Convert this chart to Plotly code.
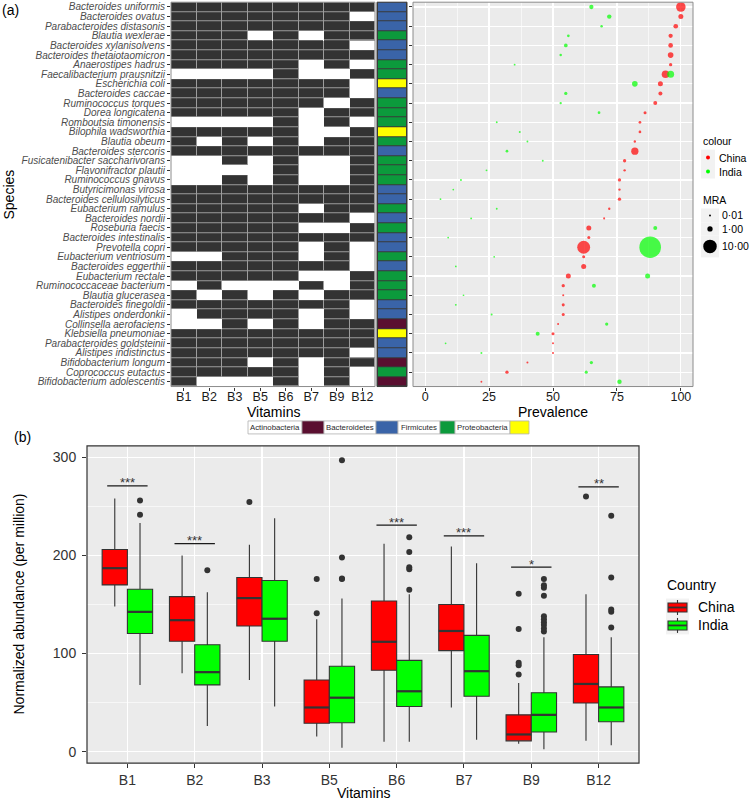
import plotly.graph_objects as go
import numpy as np

# ---------------- DATA ----------------
species = [
    "Bacteroides uniformis", "Bacteroides ovatus", "Parabacteroides distasonis", "Blautia wexlerae",
    "Bacteroides xylanisolvens", "Bacteroides thetaiotaomicron", "Anaerostipes hadrus",
    "Faecalibacterium prausnitzii", "Escherichia coli", "Bacteroides caccae", "Ruminococcus torques",
    "Dorea longicatena", "Romboutsia timonensis", "Bilophila wadsworthia", "Blautia obeum",
    "Bacteroides stercoris", "Fusicatenibacter saccharivorans", "Flavonifractor plautii",
    "Ruminococcus gnavus", "Butyricimonas virosa", "Bacteroides cellulosilyticus", "Eubacterium ramulus",
    "Bacteroides nordii", "Roseburia faecis", "Bacteroides intestinalis", "Prevotella copri",
    "Eubacterium ventriosum", "Bacteroides eggerthii", "Eubacterium rectale", "Ruminococcaceae bacterium",
    "Blautia glucerasea", "Bacteroides finegoldii", "Alistipes onderdonkii", "Collinsella aerofaciens",
    "Klebsiella pneumoniae", "Parabacteroides goldsteinii", "Alistipes indistinctus",
    "Bifidobacterium longum", "Coprococcus eutactus", "Bifidobacterium adolescentis",
]
vitamins = ["B1", "B2", "B3", "B5", "B6", "B7", "B9", "B12"]
presence = [
    [1, 1, 1, 1, 1, 1, 1, 1], [1, 1, 1, 1, 1, 1, 1, 0], [1, 1, 1, 1, 1, 1, 1, 1], [1, 1, 1, 0, 1, 0, 1, 1],
    [1, 1, 1, 1, 1, 1, 1, 0], [1, 1, 1, 1, 1, 1, 1, 1], [1, 1, 1, 1, 1, 0, 1, 0], [0, 0, 0, 0, 1, 0, 0, 1],
    [1, 1, 1, 1, 1, 1, 1, 0], [1, 1, 1, 1, 1, 1, 1, 0], [1, 1, 1, 1, 1, 1, 0, 1], [1, 1, 1, 1, 1, 0, 1, 1],
    [0, 0, 0, 0, 1, 0, 1, 0], [1, 1, 1, 1, 1, 0, 0, 1], [1, 0, 1, 0, 1, 0, 1, 1], [1, 1, 1, 1, 1, 1, 1, 1],
    [0, 0, 1, 0, 1, 0, 0, 1], [0, 0, 0, 0, 1, 0, 0, 1], [0, 0, 1, 0, 1, 0, 0, 1], [1, 1, 1, 1, 1, 1, 1, 1],
    [1, 1, 1, 1, 1, 1, 1, 1], [1, 1, 1, 1, 1, 0, 1, 1], [1, 1, 1, 1, 1, 1, 1, 0], [1, 1, 1, 1, 1, 0, 0, 1],
    [1, 1, 1, 1, 1, 1, 1, 1], [1, 1, 1, 1, 1, 0, 1, 0], [0, 0, 1, 1, 1, 0, 1, 0], [1, 1, 1, 1, 1, 1, 1, 0],
    [1, 1, 1, 1, 1, 0, 0, 1], [0, 1, 0, 0, 0, 1, 0, 1], [1, 0, 1, 0, 1, 0, 1, 1], [1, 1, 1, 1, 1, 1, 1, 0],
    [0, 1, 1, 1, 1, 0, 1, 0], [0, 0, 1, 0, 1, 0, 1, 1], [1, 1, 1, 1, 1, 1, 1, 1], [1, 1, 1, 1, 1, 1, 1, 1],
    [1, 1, 1, 1, 1, 1, 1, 0], [1, 1, 1, 0, 1, 0, 1, 1], [1, 1, 1, 1, 1, 0, 1, 0], [1, 0, 0, 0, 1, 0, 1, 0],
]
phylum_names = ["Actinobacteria", "Bacteroidetes", "Firmicutes", "Proteobacteria"]
phylum_colors = ["#5A0F30", "#3A64A8", "#0C9A3C", "#FFFF00"]
phylum = [
    "Bacteroidetes", "Bacteroidetes", "Bacteroidetes", "Firmicutes", "Bacteroidetes", "Bacteroidetes",
    "Firmicutes", "Firmicutes", "Proteobacteria", "Bacteroidetes", "Firmicutes", "Firmicutes", "Firmicutes",
    "Proteobacteria", "Firmicutes", "Bacteroidetes", "Firmicutes", "Firmicutes", "Firmicutes",
    "Bacteroidetes", "Bacteroidetes", "Firmicutes", "Bacteroidetes", "Firmicutes", "Bacteroidetes",
    "Bacteroidetes", "Firmicutes", "Bacteroidetes", "Firmicutes", "Firmicutes", "Firmicutes",
    "Bacteroidetes", "Bacteroidetes", "Actinobacteria", "Proteobacteria", "Bacteroidetes", "Bacteroidetes",
    "Actinobacteria", "Firmicutes", "Actinobacteria",
]
prev_china = [100, 100, 98, 96, 96, 96, 96, 94, 92, 92, 90, 86, 84, 84, 82, 82, 78, 78, 76, 76,
              76, 72, 70, 64, 64, 62, 62, 62, 56, 54, 54, 54, 54, 52, 50, 50, 50, 40, 32, 22]
prev_india = [65, 72, 69, 56, 55, 53, 35, 96, 82, 55, 53, 68, 28, 37, 40, 32, 46, 24, 14, 11,
              6, 28, 18, 90, 9, 88, 27, 12, 87, 66, 15, 12, 26, 71, 44, 8, 22, 65, 63, 76]
mra_china = [4.5, 0.85, 0.7, 0.55, 0.7, 1.2, 0.22, 2.6, 0.85, 0.43, 0.43, 0.16, 0.1, 0.1, 0.05, 2.3,
             0.22, 0.05, 0.22, 0.05, 0.22, 0.05, 0.02, 0.85, 0.16, 9.0, 0.16, 0.85, 0.85, 0.22,
             0.02, 0.16, 0.16, 0.02, 0.16, 0.02, 0.02, 0.02, 0.22, 0.01]
mra_india = [0.55, 0.6, 0.07, 0.1, 0.33, 0.07, 0.01, 2.1, 1.2, 0.22, 0.05, 0.1, 0.01, 0.02, 0.01, 0.1,
             0.01, 0.01, 0.02, 0.005, 0.005, 0.01, 0.01, 0.43, 0.005, 28.0, 0.005, 0.005, 0.85, 0.43,
             0.003, 0.01, 0.02, 0.22, 0.43, 0.005, 0.02, 0.22, 0.16, 0.6]
mra_legend_values = [0.01, 1.0, 10.0]
mra_legend_labels = ["0·01", "1·00", "10·00"]

countries = ["China", "India"]
country_colors = {"China": "#FF0000", "India": "#00FF00"}
box_stats = {
    "China": dict(
        lower=[148, 80, 73, 15.5, 10, 45, 8, 11],
        q1=[170, 112.5, 128, 29, 83, 103, 11, 49.5],
        median=[187, 134, 156.5, 45, 112, 123, 17.5, 69],
        q3=[206, 158, 177.5, 73, 153.5, 150, 37.5, 99],
        upper=[258, 200, 211, 135, 212, 209, 70, 160.5],
        outliers=[[], [], [254.5], [141, 176], [], [], [78.5, 88, 90.5, 125, 161], [260]],
    ),
    "India": dict(
        lower=[68, 26, 46, 4, 10, 12, 2.5, 6.5],
        q1=[120.5, 68, 112.5, 29.5, 46, 56.5, 20, 30.5],
        median=[142.5, 81, 135.5, 55, 61.5, 82, 37.5, 45],
        q3=[165.5, 109, 174.5, 87, 93, 118.5, 60, 66],
        upper=[233, 162.5, 238, 156, 160.5, 192, 116.5, 116.5],
        outliers=[[241.5, 256], [185], [], [176, 176.5, 198, 297], [165, 186, 188, 203.5, 218.5], [],
                  [122.5, 125.5, 129, 132, 135, 138, 159, 167, 169.5, 176],
                  [126.5, 142.5, 145, 177.5, 240.5]],
    ),
}
sig_vitamins = ["B1", "B2", "B6", "B7", "B9", "B12"]
sig_heights = [271, 212, 231, 220, 188, 270]
sig_labels = ["***", "***", "***", "***", "*", "**"]

# ---------------- LAYOUT HELPERS ----------------
W, H = 750, 802
def fx(p): return p / W
def fy(p): return 1 - p / H

FONT = "Liberation Sans, Arial, Helvetica, sans-serif"

def msize(m):
    return 1.5 + 3.8 * np.sqrt(np.asarray(m, dtype=float))

fig = go.Figure()
n_sp = len(species)

# ---------------- HEATMAP ----------------
dark = [[1 if v else None for v in row] for row in presence]
fig.add_trace(go.Heatmap(x=vitamins, y=species, z=dark, zmin=0, zmax=1,
                         colorscale=[[0, "#9c9c9c"], [1, "#9c9c9c"]], showscale=False,
                         hoverinfo="skip", xaxis="x", yaxis="y"))
fig.add_trace(go.Heatmap(x=vitamins, y=species, z=dark, zmin=0, zmax=1,
                         colorscale=[[0, "#333333"], [1, "#333333"]], showscale=False,
                         xgap=1, ygap=1, hoverinfo="skip", xaxis="x", yaxis="y"))

# phylum column
k = len(phylum_names)
pscale = []
for i, c in enumerate(phylum_colors):
    pscale += [[i / k, c], [(i + 1) / k, c]]
fig.add_trace(go.Heatmap(x=["Phylum"], y=species, z=[[phylum_names.index(p)] for p in phylum],
                         zmin=-0.5, zmax=k - 0.5, colorscale=pscale, showscale=False,
                         xgap=2, ygap=1, hoverinfo="skip", xaxis="x2", yaxis="y2"))

# prevalence dots
fig.add_trace(go.Scatter(x=prev_china, y=species, mode="markers", xaxis="x3", yaxis="y3",
                         marker=dict(color=country_colors["China"], size=msize(mra_china), line=dict(width=0)),
                         showlegend=False, hoverinfo="skip"))
fig.add_trace(go.Scatter(x=prev_india, y=species, mode="markers", xaxis="x3", yaxis="y3",
                         marker=dict(color=country_colors["India"], size=msize(mra_india), line=dict(width=0)),
                         showlegend=False, hoverinfo="skip"))

# ---------------- BOXPLOT ----------------
dodge = {"China": -0.1875, "India": 0.1875}
bw = 0.375
group_pos = np.arange(1, len(vitamins) + 1)
for c in countries:
    s = box_stats[c]
    pos = group_pos + dodge[c]
    fig.add_trace(go.Box(x=pos, q1=s["q1"], median=s["median"], q3=s["q3"],
                         lowerfence=s["lower"], upperfence=s["upper"], width=bw,
                         fillcolor=country_colors[c], line=dict(color="#333333", width=1.1),
                         whiskerwidth=0, boxpoints=False, showlegend=False, hoverinfo="skip",
                         xaxis="x4", yaxis="y4"))
    mx, my = [], []
    for p, m in zip(pos, s["median"]):
        mx += [p - bw / 2, p + bw / 2, None]
        my += [m, m, None]
    fig.add_trace(go.Scatter(x=mx, y=my, mode="lines", line=dict(color="#333333", width=2.2),
                             showlegend=False, hoverinfo="skip", xaxis="x4", yaxis="y4"))
    ox, oy = [], []
    for p, outs in zip(pos, s["outliers"]):
        ox += [p] * len(outs)
        oy += outs
    fig.add_trace(go.Scatter(x=ox, y=oy, mode="markers", marker=dict(color="#333333", size=6),
                             showlegend=False, hoverinfo="skip", xaxis="x4", yaxis="y4"))

shapes = []
annotations = []

def ann(text, x, y, size=14, color="#000000", xanchor="center", yanchor="middle", family=FONT, angle=0):
    annotations.append(dict(text=text, x=fx(x), y=fy(y), xref="paper", yref="paper", showarrow=False,
                            xanchor=xanchor, yanchor=yanchor, textangle=angle, borderpad=0,
                            font=dict(size=size, color=color, family=family)))

def rect(x0, y0, x1, y1, fill, line="rgba(0,0,0,0)", lw=0, layer="above"):
    shapes.append(dict(type="rect", xref="paper", yref="paper", x0=fx(x0), x1=fx(x1), y0=fy(y1), y1=fy(y0),
                       fillcolor=fill, line=dict(color=line, width=lw), layer=layer))

def dot(cx, cy, d, color):
    shapes.append(dict(type="circle", xref="paper", yref="paper", xsizemode="pixel", ysizemode="pixel",
                       xanchor=fx(cx), yanchor=fy(cy), x0=-d / 2, x1=d / 2, y0=-d / 2, y1=d / 2,
                       fillcolor=color, line=dict(width=0), layer="above"))

# panel backgrounds / borders
shapes.append(dict(type="rect", xref="x3 domain", yref="y3 domain", x0=0, x1=1, y0=0, y1=1,
                   fillcolor="#EBEBEB", line=dict(width=0), layer="below"))
shapes.append(dict(type="rect", xref="x4 domain", yref="y4 domain", x0=0, x1=1, y0=0, y1=1,
                   fillcolor="#EBEBEB", line=dict(width=0), layer="below"))
shapes.append(dict(type="rect", xref="x2 domain", yref="y2 domain", x0=0, x1=1, y0=0, y1=1,
                   fillcolor="#3a3a3a", line=dict(width=0), layer="below"))
for ax, col, w in [("x", "#8c8c8c", 1), ("x3", "#8c8c8c", 1), ("x2", "#3a3a3a", 1), ("x4", "#333333", 1.2)]:
    yax = "y" + ax[1:]
    shapes.append(dict(type="rect", xref=ax + " domain", yref=yax + " domain", x0=0, x1=1, y0=0, y1=1,
                       fillcolor="rgba(0,0,0,0)", line=dict(color=col, width=w), layer="above"))

# significance bars
for v, h, lab in zip(sig_vitamins, sig_heights, sig_labels):
    g = vitamins.index(v) + 1
    shapes.append(dict(type="line", xref="x4", yref="y4", x0=g - 0.3, x1=g + 0.3, y0=h, y1=h,
                       line=dict(color="#1a1a1a", width=1.2), layer="above"))
    annotations.append(dict(text=lab, x=g, y=h, xref="x4", yref="y4", showarrow=False, yanchor="middle",
                            yshift=3, font=dict(size=13, color="#333333", family=FONT)))

# titles / labels
ann("(a)", 1, 9, 14, xanchor="left")
ann("(b)", 13, 437, 14, xanchor="left")
ann("Species", 9, 194, 14, angle=-90)
ann("Vitamins", 273, 412, 14)
ann("Prevalence", 553, 412, 14)
ann("Vitamins", 363, 794, 14)
ann("Normalized abundance (per million)", 19, 605, 14, angle=-90)

# colour legend
ann("colour", 702, 140, 10.5, xanchor="left")
rect(701, 149, 715, 178, "#F2F2F2")
for i, c in enumerate(countries):
    dot(708, 157 + 14 * i, 4, country_colors[c])
    ann(c, 718, 157 + 14 * i, 10.5, xanchor="left")
# MRA legend
ann("MRA", 702, 199, 10.5, xanchor="left")
key_rows = [(208, 222), (222, 235), (235, 257)]
for (t, b), v, lab in zip(key_rows, mra_legend_values, mra_legend_labels):
    rect(701, t, 719, b, "#F2F2F2")
    dot(710, (t + b) / 2, float(msize(v)), "#000000")
    ann(lab, 721, (t + b) / 2, 10.5, xanchor="left")

# country legend
ann("Country", 666, 585, 14, xanchor="left")
rect(666, 599, 689, 635, "#F2F2F2")
for i, c in enumerate(countries):
    cy = 608 + 18 * i
    shapes.append(dict(type="line", xref="paper", yref="paper", x0=fx(677.5), x1=fx(677.5),
                       y0=fy(cy - 7.5), y1=fy(cy + 7.5), line=dict(color="#333333", width=1.1)))
    rect(668, cy - 4.5, 687, cy + 4.5, country_colors[c], "#333333", 1.1)
    shapes.append(dict(type="line", xref="paper", yref="paper", x0=fx(668), x1=fx(687),
                       y0=fy(cy), y1=fy(cy), line=dict(color="#333333", width=1.8)))
    ann(c, 697, cy, 14, xanchor="left")

# phylum legend strip
cells = [(54, 22), (52, 22), (42, 15), (55, 19)]
x0 = 248
for (tw, cw), name, col in zip(cells, phylum_names, phylum_colors):
    rect(x0, 421, x0 + tw, 434, "#FFFFFF", "#b0b0b0", 0.8)
    ann(name, x0 + tw / 2, 427.5, 7.8, "#2a2a2a")
    rect(x0 + tw, 421, x0 + tw + cw, 434, col, "#b0b0b0", 0.8)
    x0 += tw + cw

# ---------------- AXES ----------------
TOPY = [fy(386.5), fy(1.2)]
cat_y = dict(type="category", categoryorder="array", categoryarray=species, range=[n_sp - 0.5, -0.5],
             domain=TOPY, showgrid=False, zeroline=False)
fig.update_layout(
    width=W, height=H, margin=dict(l=0, r=0, t=0, b=0),
    paper_bgcolor="white", plot_bgcolor="white", showlegend=False,
    font=dict(family=FONT, color="#1a1a1a"),
    xaxis=dict(domain=[fx(171), fx(375)], type="category", range=[-0.5, len(vitamins) - 0.5], anchor="y",
               showgrid=False, zeroline=False, ticks="outside", ticklen=3, tickcolor="#333333",
               ticklabelstandoff=-5, tickfont=dict(size=12.5, color="#1a1a1a")),
    yaxis=dict(**cat_y, anchor="x", tickvals=species, ticktext=["<i>%s</i>" % s for s in species],
               ticks="outside", ticklen=3, tickcolor="#333333", tickfont=dict(size=10, color="#4d4d4d")),
    xaxis2=dict(domain=[fx(377), fx(407)], type="category", range=[-0.5, 0.5], anchor="y2",
                showticklabels=False, showgrid=False, zeroline=False, ticks=""),
    yaxis2=dict(**cat_y, anchor="x2", showticklabels=False, ticks=""),
    xaxis3=dict(domain=[fx(413), fx(693)], range=[-4.75, 104.75], anchor="y3", tickmode="linear",
                tick0=0, dtick=25, showgrid=True, gridcolor="white", gridwidth=1.2, zeroline=False,
                minor=dict(dtick=12.5, showgrid=True, gridcolor="white", gridwidth=0.6),
                ticks="outside", ticklen=3, tickcolor="#333333", ticklabelstandoff=-5,
                tickfont=dict(size=12.5, color="#1a1a1a")),
    yaxis3=dict(type="category", categoryorder="array", categoryarray=species, range=[n_sp - 0.5, -0.5],
                domain=TOPY, anchor="x3", showticklabels=False, showgrid=True, gridcolor="white",
                gridwidth=1.2, zeroline=False, ticks="outside", ticklen=3, tickcolor="#333333"),
    xaxis4=dict(domain=[fx(87), fx(639)], range=[0.4, len(vitamins) + 0.6], anchor="y4",
                tickvals=list(group_pos), ticktext=vitamins, showgrid=True, gridcolor="white", gridwidth=1.2,
                zeroline=False, ticks="outside", ticklen=4, tickcolor="#333333",
                tickfont=dict(size=14, color="#333333")),
    yaxis4=dict(domain=[fy(764), fy(446)], range=[-11.7, 311.7], anchor="x4", tickmode="linear", tick0=0,
                dtick=100, showgrid=True, gridcolor="white", gridwidth=1.2, zeroline=False,
                minor=dict(dtick=50, showgrid=True, gridcolor="white", gridwidth=0.6),
                ticks="outside", ticklen=4, tickcolor="#333333", ticklabelstandoff=3,
                tickfont=dict(size=14, color="#333333")),
    shapes=shapes, annotations=annotations,
)

fig.write_html("out.html", config={"displayModeBar": False, "staticPlot": True},
               post_script="document.body.style.margin='0px';document.body.style.overflow='hidden';")
